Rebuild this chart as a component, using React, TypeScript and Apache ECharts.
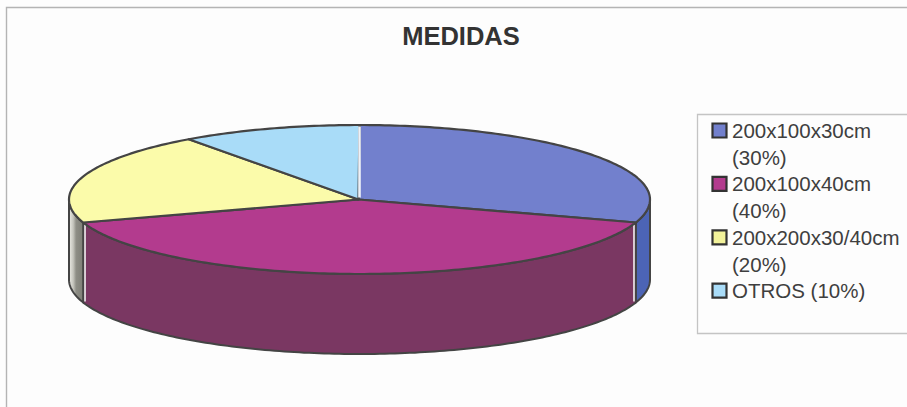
import React, { useEffect, useRef } from "react";
import * as echarts from "echarts";

const chartTitle = "MEDIDAS";
const sliceValues = [30, 40, 20, 10];
const legendLines = [
  ["200x100x30cm", "(30%)"],
  ["200x100x40cm", "(40%)"],
  ["200x200x30/40cm", "(20%)"],
  ["OTROS (10%)"],
];
const topColors = ["#7280CD", "#B33B8E", "#FBFBAA", "#A9DCF8"];
const sideColors = ["#4C64B6", "#7A3762", "#8E8E86", "#6FA6C0"];
const legendColors = ["#7280CD", "#B33B8E", "#F2F29A", "#A9DCF8"];

const INK = "#444444";
const FONT = '"Liberation Sans", Arial, sans-serif';

// Projected disc: ellipse for the top face, extruded downwards by DEPTH.
const CX = 359.5;
const CY = 199.5;
const RX = 290.5;
const RY = 74.5;
const DEPTH = 80;

const onRim = (deg: number, dy = 0): number[] => {
  const a = (deg * Math.PI) / 180;
  return [CX + RX * Math.sin(a), CY - RY * Math.cos(a) + dy];
};

const arcPoints = (from: number, to: number, dy = 0): number[][] => {
  const steps = Math.max(2, Math.ceil(Math.abs(to - from)));
  const pts: number[][] = [];
  for (let i = 0; i <= steps; i++) pts.push(onRim(from + ((to - from) * i) / steps, dy));
  return pts;
};

// Cumulative start/end angles, clockwise from twelve o'clock.
const total = sliceValues.reduce((s, v) => s + v, 0);
let running = 0;
const sliceData = sliceValues.map((v, i) => {
  const start = (running / total) * 360;
  running += v;
  return [i, start, (running / total) * 360];
});

function renderSlice(_params: any, api: any) {
  const index = api.value(0);
  const start = api.value(1);
  const end = api.value(2);
  const children: any[] = [];

  // Only the part of the wall facing the viewer (90 to 270 degrees) is visible.
  const wallFrom = Math.max(start, 90);
  const wallTo = Math.min(end, 270);
  if (wallTo > wallFrom) {
    const isLeftEnd = index === 2;
    children.push({
      type: "polygon",
      z2: 1,
      shape: { points: [...arcPoints(wallFrom, wallTo), ...arcPoints(wallTo, wallFrom, DEPTH)] },
      style: {
        fill: isLeftEnd
          ? new echarts.graphic.LinearGradient(0, 0, 1, 0, [
              { offset: 0, color: "#ECECE6" },
              { offset: 0.3, color: "#C4C4BC" },
              { offset: 0.5, color: sideColors[index] },
              { offset: 1, color: "#7E7E76" },
            ])
          : sideColors[index],
        stroke: INK,
        lineWidth: 2,
      },
    });
    // Pale highlight along the wall's edge where two slices meet.
    if (index === 1) {
      [wallFrom, wallTo].forEach((deg, k) => {
        const off = k === 0 ? -1.8 : 1.8;
        const a = onRim(deg);
        children.push({
          type: "line",
          z2: 1.5,
          shape: { x1: a[0] + off, y1: a[1] + 2, x2: a[0] + off, y2: a[1] + DEPTH - 1 },
          style: { stroke: "#EFEFEF", lineWidth: 1.6 },
        });
      });
    }
  }

  children.push({
    type: "polygon",
    z2: 2,
    shape: { points: [[CX - 1, CY], ...arcPoints(start, end)] },
    style: { fill: topColors[index], stroke: INK, lineWidth: 2.2, lineJoin: "round" },
  });

  // The seam at twelve o'clock shows as a light line instead of a dark one.
  if (start === 0) {
    const a = onRim(0);
    children.push({
      type: "line",
      z2: 3,
      shape: { x1: a[0], y1: a[1] + 1.5, x2: a[0], y2: CY - 2 },
      style: { stroke: "#EDF1F8", lineWidth: 2.6 },
    });
  }
  return { type: "group", children };
}

function legendGraphics() {
  const items: any[] = [];
  const lineHeight = 26.7;
  let row = 0;
  legendLines.forEach((lines, i) => {
    const y = 130.5 + row * lineHeight;
    items.push({
      type: "rect",
      shape: { x: 712.5, y: y - 7, width: 14, height: 14 },
      style: { fill: legendColors[i], stroke: "#333333", lineWidth: 2.2 },
    });
    lines.forEach((line, k) => {
      items.push({
        type: "text",
        x: 732,
        y: y + k * lineHeight,
        style: {
          text: line,
          font: `20.5px ${FONT}`,
          fill: "#3F3F3F",
          verticalAlign: "middle",
          align: "left",
        },
      });
    });
    row += lines.length;
  });
  return items;
}

export default function App() {
  const ref = useRef<HTMLDivElement>(null);

  useEffect(() => {
    const chart = echarts.init(ref.current as HTMLDivElement, undefined, { renderer: "svg" });
    chart.setOption({
      animation: false,
      backgroundColor: "#FDFDFD",
      title: {
        text: chartTitle,
        left: 456,
        top: 18,
        textAlign: "center",
        textStyle: { fontFamily: FONT, fontSize: 25.5, fontWeight: "bold", color: "#333333" },
      },
      graphic: [
        {
          type: "polyline",
          shape: { points: [[6.5, 407], [6.5, 7.5], [907, 7.5]] },
          style: { fill: "none", stroke: "#B4B4B4", lineWidth: 1.4 },
        },
        {
          type: "rect",
          shape: { x: 697.5, y: 114.5, width: 212, height: 219 },
          style: { fill: "#FDFDFD", stroke: "#C4C4C4", lineWidth: 1.3 },
        },
        ...legendGraphics(),
      ],
      series: [
        {
          type: "custom",
          coordinateSystem: "none",
          renderItem: renderSlice,
          data: sliceData,
          silent: true,
        },
      ],
    });
    return () => chart.dispose();
  }, []);

  return (
    <div
      ref={ref}
      style={{ position: "fixed", left: 0, top: 0, width: 907, height: 407 }}
    />
  );
}
